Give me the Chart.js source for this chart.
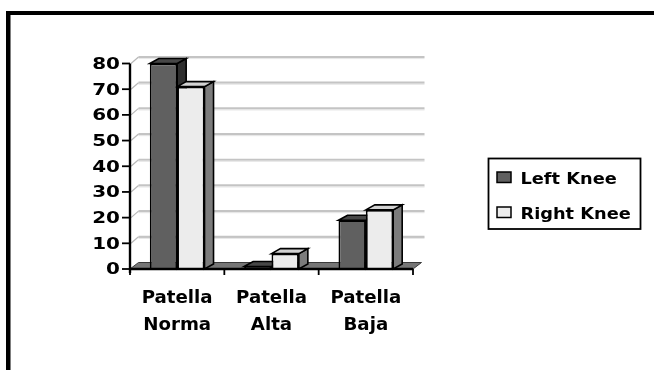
<!DOCTYPE html>
<html>
<head>
<meta charset="utf-8">
<title>Patella position – Left vs Right Knee</title>
<script src="https://cdn.jsdelivr.net/npm/chart.js@4/dist/chart.umd.min.js"></script>
<style>
  html, body { margin: 0; padding: 0; background: #fff; }
  #wrap { position: relative; width: 654px; height: 370px; }
  canvas { display: block; }
</style>
</head>
<body>
<div id="wrap"><canvas id="chart" width="654" height="370"></canvas></div>
<script>
// ---- data ----
const categories = [['Patella', 'Norma'], ['Patella', 'Alta'], ['Patella', 'Baja']];
const seriesNames = ['Left Knee', 'Right Knee'];
const leftKnee = [80, 1, 19];
const rightKnee = [71, 6, 23];
const yTicks = [0, 10, 20, 30, 40, 50, 60, 70, 80];

// ---- look ----
const FONT = '"DejaVu Sans", sans-serif';
const faceColors = [
  { front: '#606060', top: '#474747', side: '#2e2e2e' },
  { front: '#ececec', top: '#d2d2d2', side: '#7c7c7c' }
];
const BAR_DX = 9, BAR_DY = -5;       // depth of the columns
const WALL_DX = 8.5, WALL_DY = -6.5; // depth of floor / back wall

function stretchText(ctx, text, x, y, sx, align) {
  ctx.save();
  ctx.translate(x, y);
  ctx.scale(sx, 1);
  ctx.textAlign = align;
  ctx.textBaseline = 'alphabetic';
  ctx.fillText(text, 0, 0);
  ctx.restore();
}

function poly(ctx, pts, fill, stroke, lw) {
  ctx.beginPath();
  ctx.moveTo(pts[0][0], pts[0][1]);
  for (let i = 1; i < pts.length; i++) ctx.lineTo(pts[i][0], pts[i][1]);
  ctx.closePath();
  if (fill) { ctx.fillStyle = fill; ctx.fill(); }
  if (stroke) { ctx.strokeStyle = stroke; ctx.lineWidth = lw; ctx.lineJoin = 'miter'; ctx.stroke(); }
}

const scene3d = {
  id: 'scene3d',
  beforeDatasetsDraw(chart) {
    const ctx = chart.ctx;
    const xs = chart.scales.x, ys = chart.scales.y;
    const L = xs.left, R = xs.right, B = ys.getPixelForValue(0);
    ctx.save();

    // outer frame (top and left rules)
    ctx.fillStyle = '#000';
    ctx.fillRect(6, 11, 654 - 6, 4);
    ctx.fillRect(6, 11, 4.5, 370 - 11);

    // back wall grid lines with their left-side connectors
    ctx.lineCap = 'butt';
    yTicks.forEach(v => {
      if (v === 0) return;
      const y = ys.getPixelForValue(v);
      ctx.strokeStyle = '#c4c4c4';
      ctx.lineWidth = 2.2;
      ctx.beginPath();
      ctx.moveTo(L + WALL_DX, y + WALL_DY);
      ctx.lineTo(R + WALL_DX + 3, y + WALL_DY);
      ctx.stroke();
      ctx.strokeStyle = '#e6e6e6';
      ctx.lineWidth = 1;
      ctx.beginPath();
      ctx.moveTo(L + WALL_DX, y + WALL_DY + 1.6);
      ctx.lineTo(R + WALL_DX + 3, y + WALL_DY + 1.6);
      ctx.stroke();
      ctx.strokeStyle = '#b8b8b8';
      ctx.lineWidth = 1.2;
      ctx.beginPath();
      ctx.moveTo(L + 1, y);
      ctx.lineTo(L + WALL_DX, y + WALL_DY);
      ctx.stroke();
    });

    // floor
    poly(ctx, [[L, B], [R, B], [R + WALL_DX, B + WALL_DY], [L + WALL_DX, B + WALL_DY]],
      '#767676', '#3a3a3a', 1);

    // top and side faces of each column, left to right
    const metas = [chart.getDatasetMeta(0), chart.getDatasetMeta(1)];
    for (let i = 0; i < categories.length; i++) {
      metas.forEach((meta, d) => {
        const bar = meta.data[i];
        const x0 = bar.x - bar.width / 2, x1 = bar.x + bar.width / 2;
        const top = bar.y, base = bar.base;
        const c = faceColors[d];
        poly(ctx, [[x1, top], [x1 + BAR_DX, top + BAR_DY], [x1 + BAR_DX, base + BAR_DY], [x1, base]],
          c.side, '#000', 1.6);
        poly(ctx, [[x0, top], [x0 + BAR_DX, top + BAR_DY], [x1 + BAR_DX, top + BAR_DY], [x1, top]],
          c.top, '#000', 1.6);
      });
    }
    ctx.restore();
  },
  afterDraw(chart) {
    const ctx = chart.ctx;
    const xs = chart.scales.x, ys = chart.scales.y;
    const L = xs.left, R = xs.right, B = ys.getPixelForValue(0), T = ys.getPixelForValue(80);
    ctx.save();
    ctx.strokeStyle = '#000';
    ctx.lineCap = 'butt';

    // value axis line and ticks
    ctx.lineWidth = 2.4;
    ctx.beginPath();
    ctx.moveTo(L, T);
    ctx.lineTo(L, B + 4);
    ctx.stroke();
    ctx.lineWidth = 1.8;
    yTicks.forEach(v => {
      const y = ys.getPixelForValue(v);
      ctx.beginPath();
      ctx.moveTo(L - 8, y);
      ctx.lineTo(L, y);
      ctx.stroke();
    });

    // category axis line and boundary ticks
    ctx.lineWidth = 2.4;
    ctx.beginPath();
    ctx.moveTo(L, B);
    ctx.lineTo(R, B);
    ctx.stroke();
    ctx.lineWidth = 1.8;
    const step = (R - L) / categories.length;
    for (let k = 0; k <= categories.length; k++) {
      const x = L + step * k;
      ctx.beginPath();
      ctx.moveTo(x, B);
      ctx.lineTo(x, B + 6);
      ctx.stroke();
    }

    // value labels
    ctx.fillStyle = '#000';
    ctx.font = 'bold 15px ' + FONT;
    yTicks.forEach(v => {
      const y = ys.getPixelForValue(v);
      stretchText(ctx, String(v), L - 10, y + 5.4, 1.33, 'right');
    });

    // category labels
    ctx.font = 'bold 17px ' + FONT;
    categories.forEach((lines, i) => {
      const x = xs.getPixelForValue(i);
      lines.forEach((t, j) => {
        stretchText(ctx, t, x, 302.5 + j * 27.7, 1.07, 'center');
      });
    });

    // legend
    ctx.lineWidth = 1.8;
    ctx.strokeRect(488.5, 158.5, 152, 70.5);
    ctx.font = 'bold 16px ' + FONT;
    seriesNames.forEach((name, d) => {
      const y = 172 + d * 35;
      ctx.fillStyle = faceColors[d].front;
      ctx.fillRect(497, y, 14, 10.5);
      ctx.lineWidth = 1.5;
      ctx.strokeRect(497, y, 14, 10.5);
      ctx.fillStyle = '#000';
      stretchText(ctx, name, 520.5, y + 12.3, 1.11, 'left');
    });
    ctx.restore();
  }
};

new Chart(document.getElementById('chart'), {
  type: 'bar',
  data: {
    labels: categories,
    datasets: [
      {
        label: seriesNames[0], data: leftKnee,
        backgroundColor: faceColors[0].front, borderColor: '#000', borderWidth: 1.8,
        categoryPercentage: 0.58, barPercentage: 1.0
      },
      {
        label: seriesNames[1], data: rightKnee,
        backgroundColor: faceColors[1].front, borderColor: '#000', borderWidth: 1.8,
        categoryPercentage: 0.58, barPercentage: 1.0
      }
    ]
  },
  options: {
    responsive: false,
    devicePixelRatio: 1,
    animation: false,
    layout: { padding: { left: 130, right: 241, top: 63.5, bottom: 101 } },
    scales: {
      x: { type: 'category', display: false, offset: true },
      y: { display: false, min: 0, max: 80 }
    },
    plugins: { legend: { display: false }, tooltip: { enabled: false } }
  },
  plugins: [scene3d]
});
</script>
</body>
</html>
